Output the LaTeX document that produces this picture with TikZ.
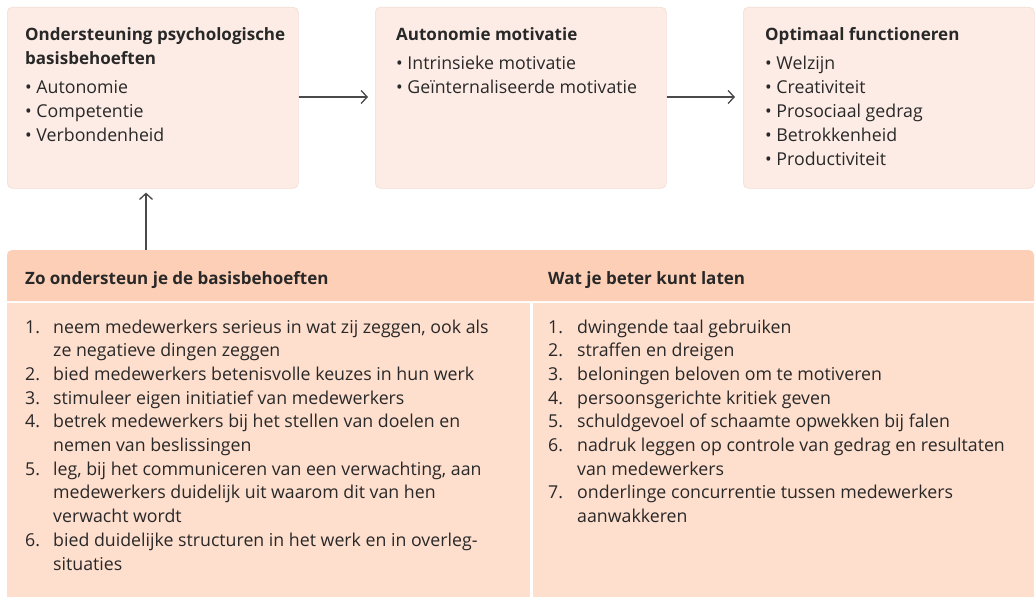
\documentclass[tikz,border=0pt]{standalone}
\usepackage{fontspec}
\setmainfont{Open Sans}
\usepackage{xcolor}
\usetikzlibrary{positioning,arrows.meta}
\definecolor{boxpink}{HTML}{FDECE5}
\definecolor{boxedge}{HTML}{F2DCD2}
\definecolor{headpink}{HTML}{FDCFB6}
\definecolor{bodypink}{HTML}{FEDECD}
\definecolor{ink}{HTML}{282828}
\definecolor{arrowgrey}{HTML}{4A4A4A}
\newcommand{\itm}{\textbullet\ }
\newcommand{\ttl}[1]{{\fontsize{17}{24}\selectfont\textbf{#1}}}

\begin{document}
\begin{tikzpicture}[x=1pt,y=-1pt,
    topbox/.style={fill=boxpink,draw=boxedge,line width=0.6pt,rounded corners=5pt,
      minimum width=291pt,minimum height=181pt,anchor=north west,inner sep=0},
    boxtext/.style={anchor=base west,inner sep=0,text=ink,font=\fontsize{17.75}{24}\selectfont},
    flow/.style={draw=arrowgrey,line width=1.3pt,-{Straight Barb[length=6pt,width=13pt]}}]
  \useasboundingbox (0,0) rectangle (1036,599);

  % top row
  \node[topbox] (basis) at (7,7) {};
  \node[topbox] (motivatie) at (375,7) {};
  \node[topbox] (functioneren) at (743,7) {};

  \node[boxtext] (basistext) at (25,41) {\begin{tabular}[t]{@{}l@{}}
      \ttl{Ondersteuning psychologische}\\
      \ttl{basisbehoeften}\\[5pt]
      \itm Autonomie\\ \itm Competentie\\ \itm Verbondenheid
    \end{tabular}};
  \node[boxtext] (motivatietext) at (396,41) {\begin{tabular}[t]{@{}l@{}}
      \ttl{Autonomie motivatie}\\[5pt]
      \itm Intrinsieke motivatie\\ \itm Geïnternaliseerde motivatie
    \end{tabular}};
  \node[boxtext] (functionerentext) at (765,41) {\begin{tabular}[t]{@{}l@{}}
      \ttl{Optimaal functioneren}\\[5pt]
      \itm Welzijn\\ \itm Creativiteit\\ \itm Prosociaal gedrag\\
      \itm Betrokkenheid\\ \itm Productiviteit
    \end{tabular}};

  \draw[flow,shorten >=7pt] (basis.east |- 0,97) -- (motivatie.west |- 0,97);
  \draw[flow,shorten >=8pt] (motivatie.east |- 0,97) -- (functioneren.west |- 0,97);

  % table
  \fill[headpink] (7,301) {[rounded corners=5pt] -- (7,250) -- (1034,250)} -- (1034,301) -- cycle;
  \fill[bodypink] (7,303) rectangle (530,597);
  \fill[bodypink] (533,303) rectangle (1034,597);
  \coordinate (tabletop) at (146,250);
  \draw[flow,shorten >=4pt] (tabletop) -- (tabletop |- basis.south);

  \node[boxtext] (dohead) at (25,284) {\ttl{Zo ondersteun je de basisbehoeften}};
  \node[boxtext] (donthead) at (548,284) {\ttl{Wat je beter kunt laten}};

  \node[boxtext,font=\fontsize{17.75}{23.7}\selectfont] (dolist) at (25,333) {\begin{tabular}[t]{@{}p{28pt}@{}l@{}}
      1. & neem medewerkers serieus in wat zij zeggen, ook als\\
         & ze negatieve dingen zeggen\\
      2. & bied medewerkers betenisvolle keuzes in hun werk\\
      3. & stimuleer eigen initiatief van medewerkers\\
      4. & betrek medewerkers bij het stellen van doelen en\\
         & nemen van beslissingen\\
      5. & leg, bij het communiceren van een verwachting, aan\\
         & medewerkers duidelijk uit waarom dit van hen\\
         & verwacht wordt\\
      6. & bied duidelijke structuren in het werk en in overleg-\\
         & situaties
    \end{tabular}};
  \node[boxtext,font=\fontsize{17.75}{23.7}\selectfont] (dontlist) at (548,333) {\begin{tabular}[t]{@{}p{29pt}@{}l@{}}
      1. & dwingende taal gebruiken\\
      2. & straffen en dreigen\\
      3. & beloningen beloven om te motiveren\\
      4. & persoonsgerichte kritiek geven\\
      5. & schuldgevoel of schaamte opwekken bij falen\\
      6. & nadruk leggen op controle van gedrag en resultaten\\
         & van medewerkers\\
      7. & onderlinge concurrentie tussen medewerkers\\
         & aanwakkeren
    \end{tabular}};
\end{tikzpicture}
\end{document}
